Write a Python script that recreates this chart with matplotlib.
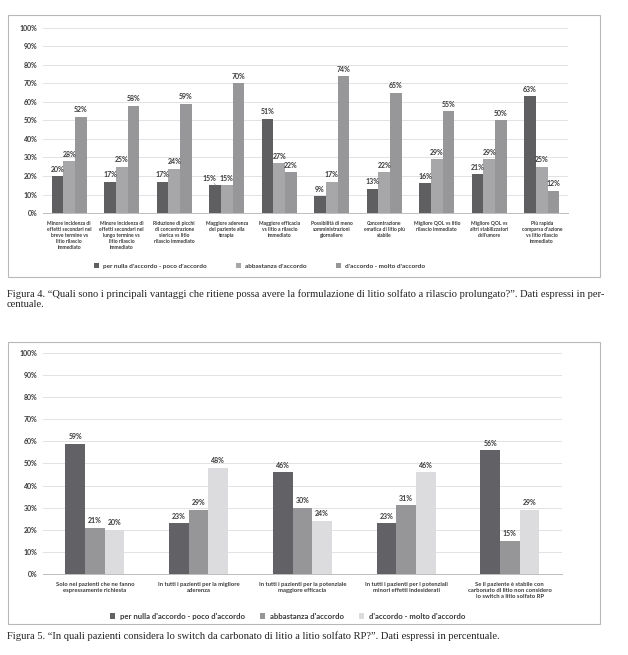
import matplotlib
matplotlib.use("Agg")
import matplotlib.pyplot as plt
import numpy as np
from matplotlib.patches import Rectangle

# ── Data: Figure 4 ──────────────────────────────────────────────────────────
fig4_categories = [
    "Minore incidenza di\neffetti secondari nel\nbreve termine vs\nlitio rilascio\nimmediato",
    "Minore incidenza di\neffetti secondari nel\nlungo termine vs\nlitio rilascio\nimmediato",
    "Riduzione di picchi\ndi concentrazione\nsierica vs litio\nrilascio immediato",
    "Maggiore aderenza\ndel paziente alla\nterapia",
    "Maggiore efficacia\nvs litio a rilascio\nimmediato",
    "Possibilità di meno\nsomministrazioni\ngiornaliere",
    "Concentrazione\nematica di litio più\nstabile",
    "Migliore QOL vs litio\nrilascio immediato",
    "Migliore QOL vs\naltri stabilizzatori\ndell'umore",
    "Più rapida\ncomparsa d'azione\nvs litio rilascio\nimmediato",
]
fig4_disagree = [20, 17, 17, 15, 51, 9, 13, 16, 21, 63]
fig4_somewhat = [28, 25, 24, 15, 27, 17, 22, 29, 29, 25]
fig4_agree = [52, 58, 59, 70, 22, 74, 65, 55, 50, 12]

# ── Data: Figure 5 ──────────────────────────────────────────────────────────
fig5_categories = [
    "Solo nei pazienti che ne fanno\nespressamente richiesta",
    "In tutti i pazienti per la migliore\naderenza",
    "In tutti i pazienti per la potenziale\nmaggiore efficacia",
    "In tutti i pazienti per i potenziali\nminori effetti indesiderati",
    "Se il paziente è stabile con\ncarbonato di litio non considero\nlo switch a litio solfato RP",
]
fig5_disagree = [59, 23, 46, 23, 56]
fig5_somewhat = [21, 29, 30, 31, 15]
fig5_agree = [20, 48, 24, 46, 29]

series_names = [
    "per nulla d'accordo - poco d'accordo",
    "abbastanza d'accordo",
    "d'accordo - molto d'accordo",
]
y_ticks = list(range(0, 101, 10))

caption4 = ("Figura 4. \u201cQuali sono i principali vantaggi che ritiene possa avere la "
            "formulazione di litio solfato a rilascio prolungato?\u201d. Dati espressi in per-\n"
            "centuale.")
caption5 = ("Figura 5. \u201cIn quali pazienti considera lo switch da carbonato di litio a "
            "litio solfato RP?\u201d. Dati espressi in percentuale.")

SANS = ["Lato", "DejaVu Sans"]
SERIF = ["Liberation Serif", "DejaVu Serif"]
TXT = "#3a3a3c"
GRID = "#e2e2e4"

COLORS4 = ["#5f5f62", "#a7a7a9", "#97979a"]
COLORS5 = ["#616166", "#969699", "#dcdcde"]


def draw_panel(ax, cats, series, colors, bar_w, cat_fs):
    x = np.arange(len(cats))
    offsets = [-bar_w, 0, bar_w]
    handles = []
    for si, (vals, off, col, name) in enumerate(zip(series, offsets, colors, series_names)):
        bars = ax.bar(x + off, vals, width=bar_w, color=col, label=name, zorder=3)
        handles.append(bars)
        for ci, (b, v) in enumerate(zip(bars, vals)):
            dx = 0
            # labels of equal neighbouring bars would collide: shift the first one left
            if si == 0 and abs(v - series[1][ci]) <= 1:
                dx = -4
                ax.annotate("", xy=(b.get_x() + b.get_width() * 0.55, v),
                            xytext=(-2.5, 3), textcoords="offset points",
                            arrowprops=dict(arrowstyle="-", color="#8a8a8c", lw=0.4),
                            zorder=4)
            ax.annotate(f"{v}%", (b.get_x() + b.get_width() / 2, v),
                        xytext=(dx, 2.5), textcoords="offset points",
                        ha="center", va="bottom", fontsize=5, fontweight="bold",
                        color=TXT, family=SANS, zorder=4)
    ax.set_xlim(-0.5, len(cats) - 0.5)
    ax.set_ylim(0, 100)
    ax.set_yticks(y_ticks)
    ax.set_yticklabels([f"{t}%" for t in y_ticks], fontsize=5, fontweight="bold",
                       color=TXT, family=SANS)
    ax.yaxis.grid(True, color=GRID, linewidth=0.7, zorder=0)
    ax.set_axisbelow(True)
    ax.set_xticks(x)
    ax.set_xticklabels(cats, fontsize=cat_fs, fontweight="bold", color=TXT,
                       family=SANS, linespacing=1.25, va="top")
    ax.tick_params(axis="x", length=0, pad=6)
    ax.tick_params(axis="y", length=0, pad=4)
    for s in ["top", "right", "left"]:
        ax.spines[s].set_visible(False)
    ax.spines["bottom"].set_color("#bdbdbf")
    ax.spines["bottom"].set_linewidth(0.7)
    return handles


fig = plt.figure(figsize=(6.28, 6.55), dpi=100)
fig.patch.set_facecolor("white")

# panel frames
fig.add_artist(Rectangle((0.0127, 0.577), 0.943, 0.400, transform=fig.transFigure,
                         fill=False, edgecolor="#b8b8ba", linewidth=0.8))
fig.add_artist(Rectangle((0.0127, 0.0473), 0.943, 0.4305, transform=fig.transFigure,
                         fill=False, edgecolor="#b8b8ba", linewidth=0.8))

# ── Figure 4 ──
ax1 = fig.add_axes([0.0685, 0.6748, 0.836, 0.2825])
h1 = draw_panel(ax1, fig4_categories, [fig4_disagree, fig4_somewhat, fig4_agree],
                COLORS4, 0.222, 3.6)
ax1.legend(h1, series_names, ncol=3, loc="center", bbox_to_anchor=(0.413, 0.594),
           bbox_transform=fig.transFigure, frameon=False,
           handlelength=0.8, handleheight=0.8, handletextpad=0.6, columnspacing=4.6,
           prop={"family": SANS, "weight": "bold", "size": 4.6})
for t in ax1.get_legend().get_texts():
    t.set_color(TXT)

fig.text(0.011, 0.558, caption4, fontsize=7.6, family=SERIF, color="#222222",
         va="top", ha="left", linespacing=1.05)

# ── Figure 5 ──
ax2 = fig.add_axes([0.0685, 0.1237, 0.826, 0.3374])
h2 = draw_panel(ax2, fig5_categories, [fig5_disagree, fig5_somewhat, fig5_agree],
                COLORS5, 0.19, 4.2)
ax2.legend(h2, series_names, ncol=3, loc="center", bbox_to_anchor=(0.458, 0.0595),
           bbox_transform=fig.transFigure, frameon=False,
           handlelength=0.7, handleheight=0.7, handletextpad=0.6, columnspacing=1.9,
           prop={"family": SANS, "weight": "bold", "size": 5.6})
for t in ax2.get_legend().get_texts():
    t.set_color(TXT)

fig.text(0.011, 0.036, caption5, fontsize=7.6, family=SERIF, color="#222222",
         va="top", ha="left")

fig.savefig("out.png", dpi=100, facecolor="white")
plt.close(fig)
